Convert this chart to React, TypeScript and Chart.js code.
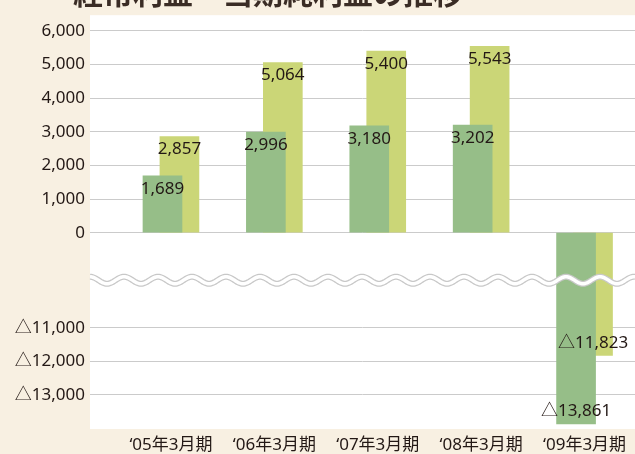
import React, { useEffect, useRef } from 'react';
import { Chart, registerables } from 'chart.js';

Chart.register(...registerables);

const titleText = '経常利益・当期純利益の推移';
const categories = ['‘05年3月期', '‘06年3月期', '‘07年3月期', '‘08年3月期', '‘09年3月期'];
const netIncome = [1689, 2996, 3180, 3202, -13861]; // green
const ordinaryIncome = [2857, 5064, 5400, 5543, -11823]; // yellow
const upperTicks = [0, 1000, 2000, 3000, 4000, 5000, 6000];
const lowerTicks = [-13000, -12000, -11000];

// broken axis: the lower segment (-11,000 and below) is shifted up on the axis
const BREAK_SHIFT = 8172;
const toAxis = (v: number) => (v < 0 ? v + BREAK_SHIFT : v);
const fromAxis = (t: number) => (t < 0 ? t - BREAK_SHIFT : t);
const fmt = (v: number) =>
  v < 0 ? '△' + Math.abs(v).toLocaleString('en-US') : v.toLocaleString('en-US');

const BG = '#F8F0E2';
const GREEN = '#96BE88';
const YELLOW = '#CBD677';
const TEXT = '#231815';
const FONT = '"Noto Sans", "Noto Sans CJK JP", sans-serif';
const PAIR_SHIFT = 0.082;

const decorPlugin = {
  id: 'decor',
  beforeDraw(chart: any) {
    const { ctx, chartArea, width, height } = chart;
    ctx.save();
    ctx.fillStyle = BG;
    ctx.fillRect(0, 0, width, height);
    ctx.fillStyle = '#FFFFFF';
    ctx.fillRect(chartArea.left, chartArea.top, chartArea.right - chartArea.left, chartArea.bottom - chartArea.top);
    ctx.fillStyle = '#3A2C25';
    ctx.font = 'bold 30px "Noto Sans CJK JP", sans-serif';
    ctx.textAlign = 'left';
    ctx.textBaseline = 'alphabetic';
    ctx.fillText(titleText, 73, 4);
    ctx.restore();
  },
  afterDatasetsDraw(chart: any) {
    const { ctx, chartArea, scales } = chart;
    const y = scales.y;
    const yWave = (y.getPixelForValue(0) + y.getPixelForValue(toAxis(lowerTicks[lowerTicks.length - 1]))) / 2;
    const P = 34;
    const A = 3.5;
    ctx.save();
    ctx.beginPath();
    for (let x = chartArea.left; x <= chartArea.right; x += 1) {
      const yy = yWave - A * Math.cos((2 * Math.PI * (x - chartArea.left)) / P);
      if (x === chartArea.left) ctx.moveTo(x, yy);
      else ctx.lineTo(x, yy);
    }
    ctx.lineCap = 'butt';
    ctx.strokeStyle = '#C8C8C8';
    ctx.lineWidth = 6;
    ctx.stroke();
    ctx.strokeStyle = '#FFFFFF';
    ctx.lineWidth = 3.5;
    ctx.stroke();

    // value labels
    ctx.fillStyle = TEXT;
    ctx.font = '17px ' + FONT;
    ctx.textAlign = 'center';
    ctx.textBaseline = 'middle';
    const sources = [netIncome, ordinaryIncome];
    chart.data.datasets.forEach((ds: any, di: number) => {
      const meta = chart.getDatasetMeta(di);
      meta.data.forEach((bar: any, i: number) => {
        const v = sources[di][i];
        const ty = v >= 0 ? bar.y + 13 : bar.y - 12.5;
        ctx.fillText(fmt(v), bar.x, ty);
      });
    });
    ctx.restore();
  },
};

export default function App() {
  const ref = useRef<HTMLCanvasElement | null>(null);

  useEffect(() => {
    if (!ref.current) return;
    const chart = new Chart(ref.current, {
      type: 'bar',
      data: {
        datasets: [
          {
            label: '当期純利益',
            data: netIncome.map((v, i) => ({ x: i - PAIR_SHIFT, y: toAxis(v) })),
            backgroundColor: GREEN,
            barThickness: 39,
            grouped: false,
          } as any,
          {
            label: '経常利益',
            data: ordinaryIncome.map((v, i) => ({ x: i + PAIR_SHIFT, y: toAxis(v) })),
            backgroundColor: YELLOW,
            barThickness: 39,
            grouped: false,
          } as any,
        ],
      },
      options: {
        responsive: false,
        animation: false,
        layout: { padding: { top: 11, left: 0, right: 0, bottom: 0 } },
        plugins: {
          legend: { display: false },
          tooltip: { enabled: false },
          title: { display: false },
        },
        scales: {
          x: {
            type: 'linear',
            offset: false,
            bounds: 'data',
            min: -0.783,
            max: 4.488,
            grid: { display: false, drawTicks: false, offset: false },
            border: { display: false },
            afterBuildTicks: (scale: any) => {
              scale.ticks = categories.map((_, i) => ({ value: i }));
            },
            afterFit: (scale: any) => {
              scale.height = 25;
            },
            ticks: {
              autoSkip: false,
              maxRotation: 0,
              padding: 6,
              color: TEXT,
              font: { size: 17, family: FONT },
              callback: (value: any) => categories[value as number] ?? '',
            },
          },
          y: {
            type: 'linear',
            min: -5840,
            max: 6470,
            grid: { color: '#CBCBCB', lineWidth: 1, drawTicks: false },
            border: { display: false },
            afterBuildTicks: (scale: any) => {
              scale.ticks = [...lowerTicks.map(toAxis), ...upperTicks].map((v) => ({ value: v }));
            },
            afterFit: (scale: any) => {
              scale.width = 90;
            },
            ticks: {
              autoSkip: false,
              padding: 5,
              color: TEXT,
              font: { size: 17, family: FONT },
              callback: (value: any) => fmt(fromAxis(value as number)),
            },
          },
        },
      },
      plugins: [decorPlugin],
    } as any);
    return () => chart.destroy();
  }, []);

  return (
    <div style={{ position: 'fixed', left: 0, top: 0, width: 635, height: 454, overflow: 'hidden' }}>
      <canvas ref={ref} width={635} height={454} style={{ display: 'block' }} />
    </div>
  );
}
